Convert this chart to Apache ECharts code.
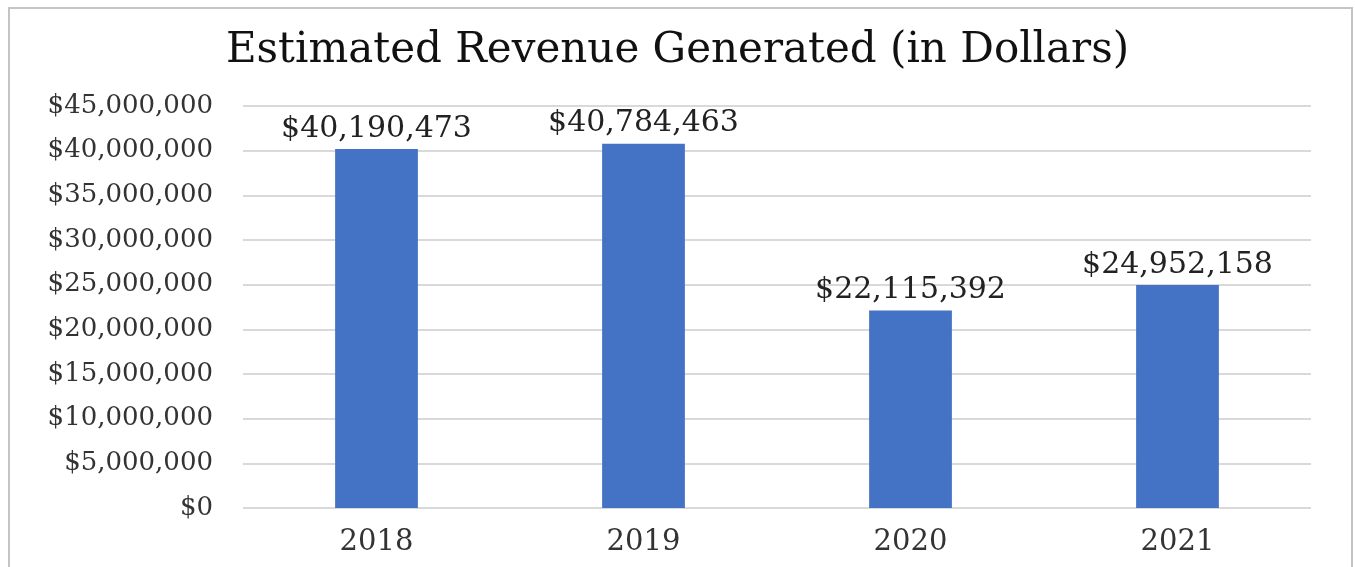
<!DOCTYPE html>
<html><head><meta charset="utf-8">
<script src="https://cdn.jsdelivr.net/npm/echarts@6/dist/echarts.min.js"></script>
<style>html,body{margin:0;padding:0;background:#fff}#c{width:1355px;height:567px}</style>
</head><body><div id="c"></div>
<script>
const titleText = 'Estimated Revenue Generated (in Dollars)';
const categories = ['2018', '2019', '2020', '2021'];
const revenue = [40190473, 40784463, 22115392, 24952158];
const yMax = 45000000;
const yInterval = 5000000;

const fmt = v => '$' + Math.round(v).toLocaleString('en-US');
const font = 'DejaVu Serif';

const chart = echarts.init(document.getElementById('c'));
chart.setOption({
  animation: false,
  backgroundColor: '#fff',
  title: {
    text: titleText, left: 'center', top: 25,
    textStyle: { fontFamily: font, fontSize: 42, fontWeight: 'normal', color: '#111' }
  },
  graphic: [{
    type: 'rect', shape: { x: 9, y: 8, width: 1343, height: 600 },
    style: { fill: 'none', stroke: '#c4c4c4', lineWidth: 2 }, silent: true, z: -1
  }],
  grid: { left: 243, right: 44, top: 106, bottom: 59, containLabel: false },
  xAxis: {
    type: 'category', data: categories,
    axisLine: { show: false }, axisTick: { show: false },
    axisLabel: { fontFamily: font, fontSize: 29, color: '#333', margin: 20 }
  },
  yAxis: {
    type: 'value', min: 0, max: yMax, interval: yInterval,
    axisLine: { show: false }, axisTick: { show: false },
    axisLabel: { fontFamily: font, fontSize: 26, color: '#333', margin: 30, formatter: fmt },
    splitLine: { lineStyle: { color: '#d9d9d9', width: 2 } }
  },
  series: [{
    type: 'bar', data: revenue, barCategoryGap: '69%',
    itemStyle: { color: '#4472c4' },
    label: { show: true, position: 'top', distance: 5, formatter: p => fmt(p.value),
      fontFamily: font, fontSize: 30, color: '#222' }
  }]
});
</script></body></html>
